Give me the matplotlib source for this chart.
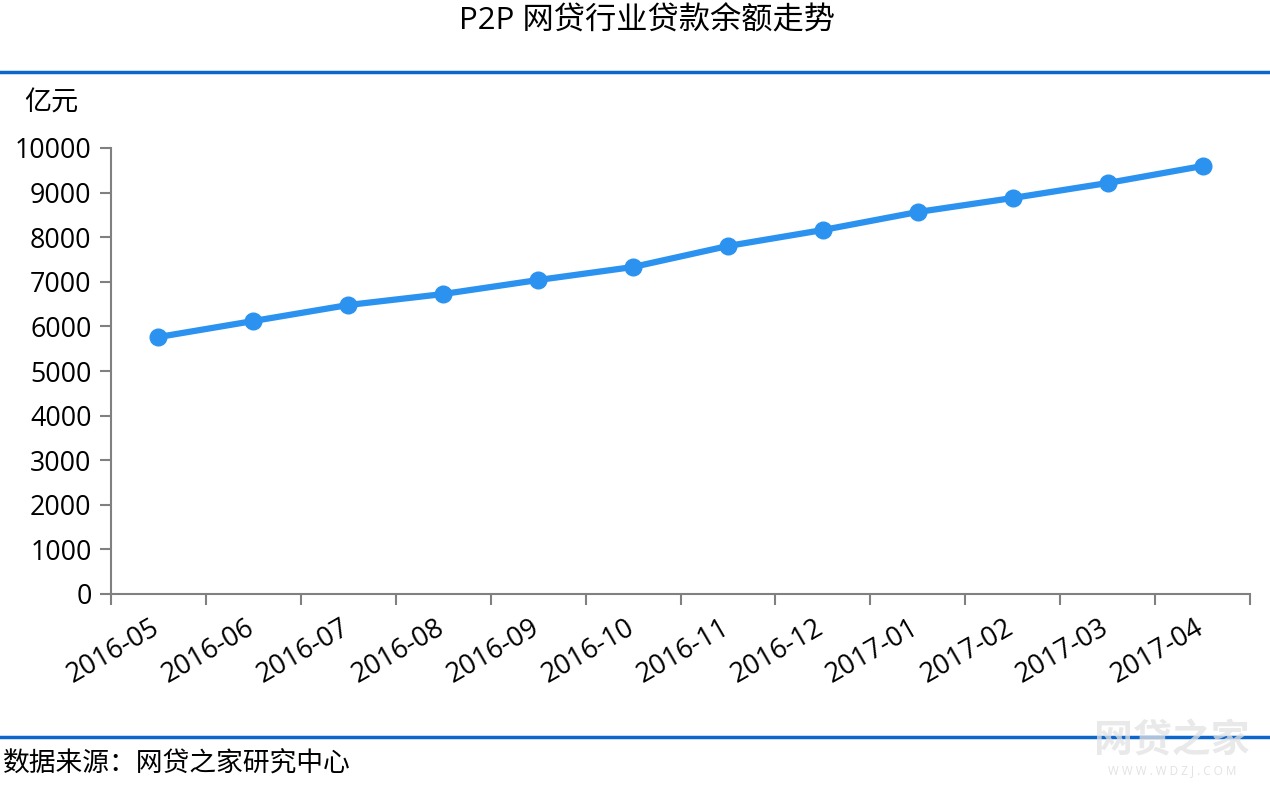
import matplotlib
matplotlib.use("Agg")
import matplotlib.pyplot as plt
from matplotlib.lines import Line2D
from matplotlib.transforms import ScaledTranslation

# P2P 网贷行业贷款余额走势 (亿元)
meses = ["2016-05", "2016-06", "2016-07", "2016-08", "2016-09", "2016-10",
         "2016-11", "2016-12", "2017-01", "2017-02", "2017-03", "2017-04"]
saldo = [5762, 6121, 6480, 6726, 7040, 7332, 7803, 8161, 8565, 8879, 9215, 9596]
yticks = [0, 1000, 2000, 3000, 4000, 5000, 6000, 7000, 8000, 9000, 10000]

plt.rcParams['font.family'] = ['Open Sans', 'Noto Sans CJK SC', 'DejaVu Sans']

fig = plt.figure(figsize=(12.7, 7.85), dpi=100)
ax = fig.add_axes([111/1270, 1 - 594/785, (1250 - 111)/1270, (594 - 148)/785])

x = list(range(len(meses)))
ax.plot(x, saldo, color='#2b93ef', lw=4.5, marker='o', ms=12,
        solid_capstyle='round', clip_on=False, zorder=3)

ax.set_xlim(-0.5, len(meses) - 0.5)
ax.set_ylim(0, 10000)
ax.set_yticks(yticks)
ax.set_yticklabels([str(v) for v in yticks])

# ticks en los bordes de cada categoria, etiquetas al centro
ax.set_xticks([i - 0.5 for i in range(len(meses) + 1)])
ax.set_xticklabels([])
ax.set_xticks(x, minor=True)
ax.set_xticklabels(meses, minor=True, rotation=30, ha='right', va='top',
                   rotation_mode='anchor')
ax.tick_params(axis='x', which='minor', length=0, pad=14, labelsize=19.5)
ax.tick_params(axis='x', which='major', length=8, width=1.5, color='#808080')
ax.tick_params(axis='y', length=8, width=1.5, color='#808080', labelsize=19.3, pad=6)
desplazo = ScaledTranslation(-8/100, 0, fig.dpi_scale_trans)
for lab in ax.get_xticklabels(minor=True):
    lab.set_transform(lab.get_transform() + desplazo)

for s in ['top', 'right']:
    ax.spines[s].set_visible(False)
for s in ['left', 'bottom']:
    ax.spines[s].set_color('#808080')
    ax.spines[s].set_linewidth(1.5)

fig.text(647/1270, 1 - 22/785, "P2P 网贷行业贷款余额走势", ha='center', va='center',
         fontsize=22.5)
fig.text(24/1270, 1 - 104/785, "亿元", ha='left', va='center', fontsize=19.5)

azul = '#0d66cc'
fig.add_artist(Line2D([0, 1], [1 - 72/785] * 2, color=azul, lw=2.5,
                      transform=fig.transFigure))
fig.add_artist(Line2D([0, 1], [1 - 737/785] * 2, color=azul, lw=2.5,
                      transform=fig.transFigure))

fig.text(3/1270, 1 - 765/785, "数据来源：网贷之家研究中心", ha='left', va='center',
         fontsize=19.3)

# marca de agua
fig.text(1172/1270, 1 - 742/785, "网贷之家", ha='center', va='center', fontsize=28,
         fontweight='bold', color='#e2e2e2', alpha=0.75, zorder=5)
fig.text(1172/1270, 1 - 771/785, "W W W . W D Z J . C O M", ha='center', va='center',
         fontsize=8.5, color='#e2e2e2', zorder=5)

fig.savefig("out.png", dpi=100)
